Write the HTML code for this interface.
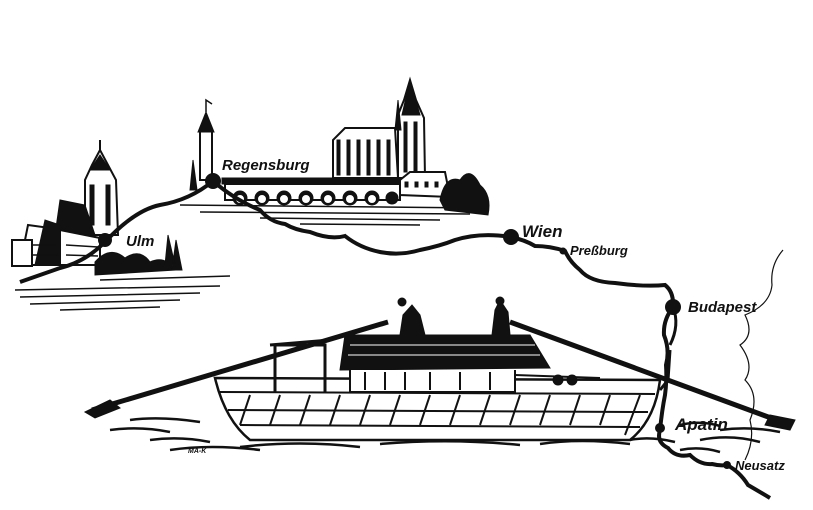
<!DOCTYPE html>
<html><head><meta charset="utf-8"><style>
html,body{margin:0;padding:0;background:#fff;}
svg{display:block}
text{font-family:"Liberation Sans",sans-serif;font-weight:bold;fill:#111;font-style:italic}
</style></head><body>
<svg width="813" height="510" viewBox="0 0 813 510" xmlns="http://www.w3.org/2000/svg">
<rect width="813" height="510" fill="#fff"/>
<g stroke="#111" fill="none">
<g stroke-width="1.5">
<path d="M15 290 L220 286 M20 297 L200 293 M30 304 L180 300 M60 310 L160 307"/>
<path d="M180 205 L480 208 M200 212 L470 214 M260 218 L440 220 M300 224 L420 225"/>
<path d="M100 280 L230 276"/>
</g>
<!-- Ulm town -->
<g fill="#111" stroke="#111">
<path d="M85 235 L85 180 L92 165 L100 150 L108 165 L116 180 L118 235 Z" fill="#fff" stroke-width="2"/>
<path d="M100 140 L100 152" stroke-width="2"/>
<path d="M90 170 L100 155 L110 170 Z"/>
<rect x="90" y="185" width="4" height="40"/><rect x="106" y="185" width="4" height="40"/>
<path d="M55 235 L60 200 L85 205 L95 235 Z"/>
<path d="M20 265 L28 225 L50 228 L60 265 Z" fill="#fff" stroke-width="2"/>
<path d="M35 265 L45 220 L60 225 L70 265 Z"/>
<path d="M60 265 L60 230 L100 238 L100 265 Z" fill="#fff" stroke-width="2"/>
<g stroke-width="1.5"><path d="M22 245 L56 245 M22 255 L58 255 M66 245 L98 247 M66 255 L98 256"/></g>
<rect x="12" y="240" width="20" height="26" fill="#fff" stroke-width="2"/>
<path d="M95 262 Q110 245 125 258 Q140 248 150 262 Q165 255 175 270 L95 275 Z"/>
<path d="M165 265 L168 235 L175 265 Z M172 270 L176 240 L182 270 Z"/>
</g>
<!-- Regensburg -->
<g fill="#111" stroke="#111">
<rect x="200" y="130" width="12" height="50" fill="#fff" stroke-width="2"/>
<path d="M198 132 L206 112 L214 132 Z"/>
<path d="M206 112 L206 100 L212 104" stroke-width="1.5" fill="none"/>
<path d="M190 190 L193 160 L197 190 Z"/>
<rect x="222" y="178" width="180" height="6"/>
<path d="M225 184 L400 184 L400 200 L225 200 Z" fill="#fff" stroke-width="2"/>
<g fill="#111">
<circle cx="240" cy="198" r="7"/><circle cx="262" cy="198" r="7"/><circle cx="284" cy="198" r="7"/><circle cx="306" cy="198" r="7"/><circle cx="328" cy="198" r="7"/><circle cx="350" cy="198" r="7"/><circle cx="372" cy="198" r="7"/><circle cx="392" cy="198" r="6"/>
</g>
<g fill="#fff"><circle cx="240" cy="199" r="4.5"/><circle cx="262" cy="199" r="4.5"/><circle cx="284" cy="199" r="4.5"/><circle cx="306" cy="199" r="4.5"/><circle cx="328" cy="199" r="4.5"/><circle cx="350" cy="199" r="4.5"/><circle cx="372" cy="199" r="4.5"/></g>
<path d="M333 178 L333 140 L345 128 L395 128 L398 178 Z" fill="#fff" stroke-width="2"/>
<g fill="#111"><rect x="337" y="140" width="3" height="35"/><rect x="347" y="140" width="3" height="35"/><rect x="357" y="140" width="3" height="35"/><rect x="367" y="140" width="3" height="35"/><rect x="377" y="140" width="3" height="35"/><rect x="387" y="140" width="3" height="35"/></g>
<path d="M398 178 L398 115 L404 100 L410 80 L416 100 L424 118 L425 178 Z" fill="#fff" stroke-width="2"/>
<path d="M402 115 L410 80 L420 115 Z"/>
<path d="M395 130 L398 100 L401 130 Z"/>
<rect x="404" y="122" width="3" height="50"/><rect x="414" y="122" width="3" height="50"/>
<path d="M400 195 L400 180 L410 172 L445 172 L450 197 Z" fill="#fff" stroke-width="2"/>
<g fill="#111"><rect x="405" y="182" width="3" height="5"/><rect x="415" y="182" width="3" height="5"/><rect x="425" y="182" width="3" height="5"/><rect x="435" y="182" width="3" height="5"/></g>
<path d="M440 200 Q445 175 460 180 Q470 165 480 185 Q492 195 488 215 L445 210 Z"/>
</g>
<!-- river -->
<path d="M20 282 Q40 275 60 268 Q85 262 105 242 Q135 210 160 205 Q190 200 213 181 Q235 200 260 210 Q270 222 285 224 Q295 230 310 232 Q330 240 345 236 Q360 248 380 252 Q400 256 420 250 Q440 246 455 240 Q480 232 511 237 Q525 240 535 246 Q550 246 565 251 Q570 262 580 270 Q590 282 615 283 Q645 287 665 285 Q674 292 673 307 Q663 320 664 335 Q670 350 666 365 Q667 380 665 395 Q662 410 660 430 Q656 442 668 448 Q676 458 690 455 Q700 465 712 464 Q720 466 727 465 Q740 472 748 485 Q760 492 770 498" stroke-width="4"/>
<path d="M673 307 Q680 325 670 345" stroke-width="3"/>
<!-- border -->
<path d="M783 250 Q770 265 772 285 Q770 305 745 315 Q755 335 740 345 Q755 365 745 380 Q760 395 750 420 Q755 440 745 460" stroke-width="1.2"/>
<!-- boat -->
<path d="M92 410 L388 322" stroke-width="5"/>
<path d="M85 412 L110 400 L120 408 L95 418 Z" fill="#111"/>
<path d="M510 322 L790 425" stroke-width="5"/>
<path d="M770 415 L795 420 L790 430 L765 425 Z" fill="#111"/>
<path d="M215 378 L660 380 Q655 420 630 440 L250 440 Q225 420 215 378 Z" fill="#fff" stroke-width="2.5"/>
<path d="M220 392 L655 394 M228 410 L648 412 M240 425 L640 427" stroke-width="2"/>
<g stroke-width="2"><path d="M250 395 L240 425 M280 395 L270 425 M310 395 L300 425 M340 395 L330 425 M370 395 L360 425 M400 395 L390 425 M430 395 L420 425 M460 395 L450 425 M490 395 L480 425 M520 395 L510 425 M550 395 L540 425 M580 395 L570 425 M610 395 L600 425 M640 395 L625 435"/></g>
<path d="M670 350 L668 380 L660 390" stroke-width="3"/>
<path d="M345 335 L530 335 L550 368 L340 370 Z" fill="#111"/>
<g stroke="#fff" stroke-width="1"><path d="M350 345 L535 345 M348 355 L540 355"/></g>
<path d="M350 370 L350 392 L515 392 L515 370" fill="#fff" stroke-width="2"/>
<g stroke-width="2"><path d="M365 372 L365 390 M385 372 L385 390 M405 372 L405 390 M430 372 L430 390 M460 372 L460 390 M490 372 L490 390"/></g>
<path d="M275 392 L275 345 L325 345 L325 392 M270 345 L330 340" stroke-width="3"/>
<path d="M515 375 L600 378" stroke-width="2"/>
<circle cx="558" cy="380" r="5" fill="#111"/><circle cx="572" cy="380" r="5" fill="#111"/>
<path d="M400 335 L403 315 L412 305 L420 315 L425 335" fill="#111"/>
<circle cx="402" cy="302" r="4" fill="#111"/>
<path d="M492 335 L495 310 L500 300 L508 312 L510 335" fill="#111"/>
<circle cx="500" cy="301" r="4" fill="#111"/>
<!-- water -->
<g stroke-width="2.5">
<path d="M150 440 Q180 436 210 442 M170 450 Q210 444 260 450 M240 447 Q300 440 360 447 M380 444 Q450 438 520 445 M540 444 Q580 438 630 444 M630 440 Q650 436 675 442 M110 430 Q140 426 170 432 M130 420 Q160 416 200 422"/>
<path d="M680 425 Q700 420 720 426 M700 440 Q730 434 760 442 M720 430 Q750 426 780 432 M680 450 Q700 446 720 452"/>
</g>
</g>
<g fill="#111">
<circle cx="105" cy="240" r="7"/><circle cx="213" cy="181" r="8"/><circle cx="511" cy="237" r="8"/>
<circle cx="563" cy="251" r="3.5"/><circle cx="673" cy="307" r="8"/><circle cx="660" cy="428" r="5"/><circle cx="727" cy="465" r="4"/>
</g>
<text x="126" y="246" font-size="15" font-style="normal">Ulm</text>
<text x="222" y="170" font-size="15">Regensburg</text>
<text x="522" y="237" font-size="17" font-style="normal">Wien</text>
<text x="570" y="255" font-size="13">Preßburg</text>
<text x="688" y="312" font-size="15">Budapest</text>
<text x="675" y="430" font-size="17" font-weight="normal">Apatin</text>
<text x="735" y="470" font-size="13">Neusatz</text>
<text x="188" y="453" font-size="7" font-style="normal">MA-K</text>
</svg>
</body></html>
